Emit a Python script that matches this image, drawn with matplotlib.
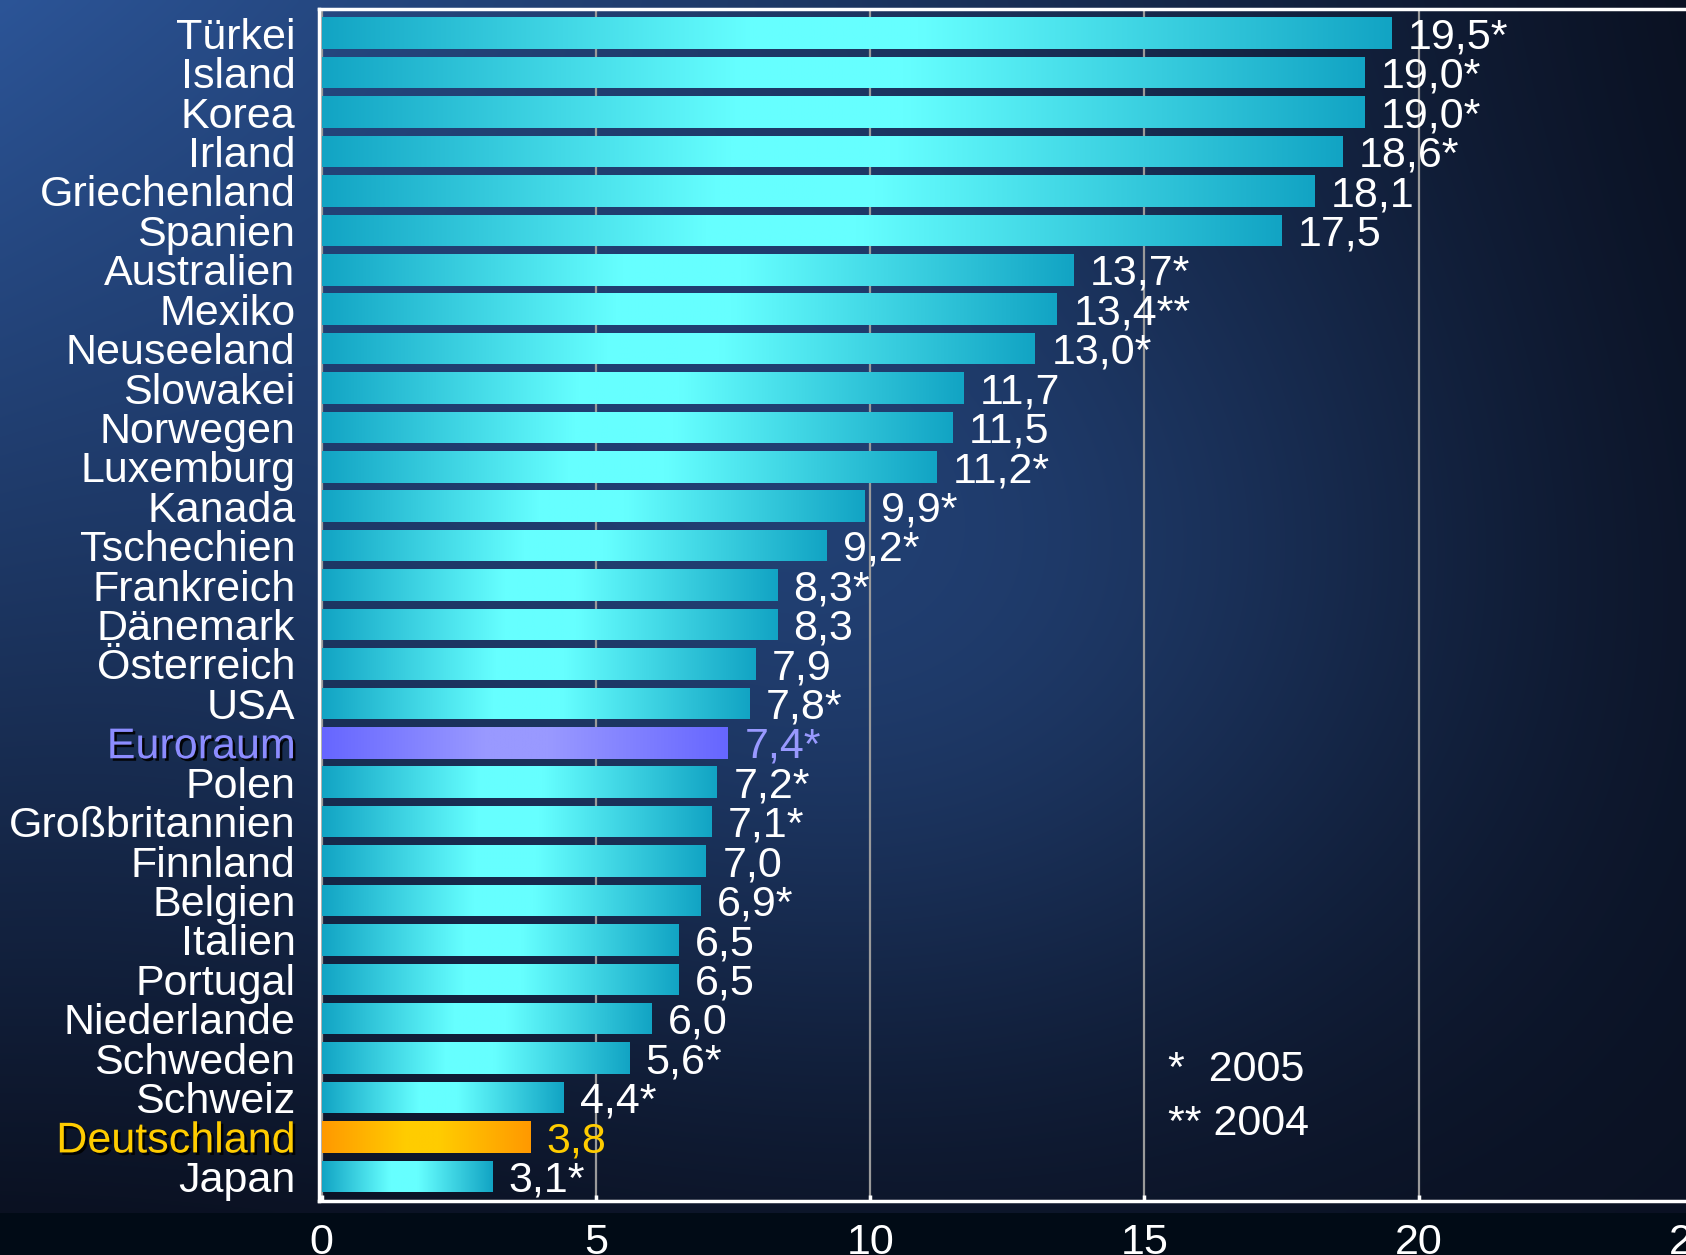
import numpy as np
import matplotlib
matplotlib.use("Agg")
import matplotlib.pyplot as plt
import matplotlib.patheffects as pe
from matplotlib.colors import to_rgb

countries = ["Türkei", "Island", "Korea", "Irland", "Griechenland", "Spanien",
             "Australien", "Mexiko", "Neuseeland", "Slowakei", "Norwegen",
             "Luxemburg", "Kanada", "Tschechien", "Frankreich", "Dänemark",
             "Österreich", "USA", "Euroraum", "Polen", "Großbritannien",
             "Finnland", "Belgien", "Italien", "Portugal", "Niederlande",
             "Schweden", "Schweiz", "Deutschland", "Japan"]
values = [19.5, 19.0, 19.0, 18.6, 18.1, 17.5, 13.7, 13.4, 13.0, 11.7, 11.5,
          11.2, 9.9, 9.2, 8.3, 8.3, 7.9, 7.8, 7.4, 7.2, 7.1, 7.0, 6.9, 6.5,
          6.5, 6.0, 5.6, 4.4, 3.8, 3.1]
marks = ["*", "*", "*", "*", "", "", "*", "**", "*", "", "", "*", "*", "*",
         "*", "", "", "*", "*", "*", "*", "", "*", "", "", "", "*", "*", "",
         "*"]
xticks = [0, 5, 10, 15, 20, 25]
footnotes = ["*  2005", "** 2004"]

FONT = ["Liberation Sans", "DejaVu Sans"]
plt.rcParams['font.family'] = FONT
FS = 31

W, H = 1686, 1255
fig = plt.figure(figsize=(W / 100, H / 100), dpi=100, facecolor="#010b16")

# ---- background gradient ----
bg_bottom = 1 - 1213 / H
bgax = fig.add_axes([0, bg_bottom, 1, 1 - bg_bottom], zorder=-5)
bgax.set_axis_off()
nu, nv = 400, 300
u = np.linspace(0, 1, nu)[None, :]
v = np.linspace(0, 1, nv)[:, None]
dark = np.array([0.04, 0.065, 0.13])
tl = np.array([0.17, 0.33, 0.59])
w_left = (1 - u) ** 1.1 * (1 - v) ** 1.0
w_glow = np.exp(-((u - 0.55) ** 2 / 0.12 + (v - 0.5) ** 2 / 0.15))
w = np.clip(w_left + 0.45 * w_glow, 0, 1)
img = dark[None, None, :] + (tl - dark)[None, None, :] * w[:, :, None]
bgax.imshow(np.clip(img, 0, 1), aspect="auto", extent=(0, 1, 0, 1),
            interpolation="bilinear")
bgax.set_xlim(0, 1)
bgax.set_ylim(0, 1)

# ---- main axes ----
x0_px = 319.0
px_per_unit = (1417.3 - 320.4) / 20
xmin, xmax = -0.05, 25
left = (x0_px) / W
width = (xmax - xmin) * px_per_unit / W
bottom = 1 - 1201 / H
top = 1 - 8.6 / H
ax = fig.add_axes([left, bottom, width, top - bottom])
ax.set_facecolor("none")

n = len(countries)
ypos = np.arange(n)
bars = ax.barh(ypos, values, height=0.8, color="none", edgecolor="none",
               zorder=2)

def bar_colors(name):
    if name == "Euroraum":
        return "#6666FF", "#9999FF"
    if name == "Deutschland":
        return "#FF9900", "#FFCC00"
    return "#12A4C4", "#66FFFF"

t = np.linspace(0, 1, 256)
for name, patch in zip(countries, bars):
    edge, mid = (np.array(to_rgb(c)) for c in bar_colors(name))
    f = np.interp(t, [0, 0.4, 0.56, 1], [0, 1, 1, 0])
    grad = edge[None, :] + (mid - edge)[None, :] * f[:, None]
    grad = grad[None, :, :]
    bx, by = patch.get_x(), patch.get_y()
    bw, bh = patch.get_width(), patch.get_height()
    im = ax.imshow(grad, extent=(bx, bx + bw, by + bh, by), aspect="auto",
                   interpolation="bilinear", zorder=2)
    im.set_clip_path(patch)

ax.set_xlim(xmin, xmax)
ax.set_ylim(n - 1 + 0.625, -0.625)

# grid
ax.set_xticks(xticks)
ax.xaxis.grid(True, color="#9a9a9a", linewidth=1.6, zorder=0)
ax.set_axisbelow(True)

for s in ["left", "top", "bottom", "right"]:
    ax.spines[s].set_color("white")
    ax.spines[s].set_linewidth(2.5)

ax.set_yticks(ypos)
ax.set_yticklabels(countries)
ax.tick_params(axis="y", length=0, pad=17, labelsize=FS, labelcolor="white")
ax.tick_params(axis="x", direction="in", length=4, width=2.5, color="white",
               pad=16, labelsize=FS, labelcolor="white")

shadow = [pe.SimplePatchShadow(offset=(1.8, -1.8), shadow_rgbFace="black",
                               alpha=0.9), pe.Normal()]
special = {"Euroraum": "#8C8CFF", "Deutschland": "#FFCC00"}
for lab in ax.get_yticklabels():
    if lab.get_text() in special:
        lab.set_color(special[lab.get_text()])
        lab.set_path_effects(shadow)

for name, val, mk, patch in zip(countries, values, marks, bars):
    txt = f"{val:.1f}".replace(".", ",") + mk
    col = special.get(name, "white")
    if name == "Euroraum":
        col = "#9999FF"
    ax.annotate(txt, (patch.get_width(), patch.get_y() + patch.get_height() / 2),
                xytext=(12, -3), textcoords="offset points", ha="left",
                va="center", fontsize=FS, color=col, zorder=4)

# footnotes
fx = (1167 - 320.4) / px_per_unit
for i, ftxt in enumerate(footnotes):
    ax.text(fx, 26.3 + i * 1.38, ftxt, fontsize=FS, color="white",
            ha="left", va="center", zorder=4)

fig.savefig("out.png", dpi=100, facecolor=fig.get_facecolor())
